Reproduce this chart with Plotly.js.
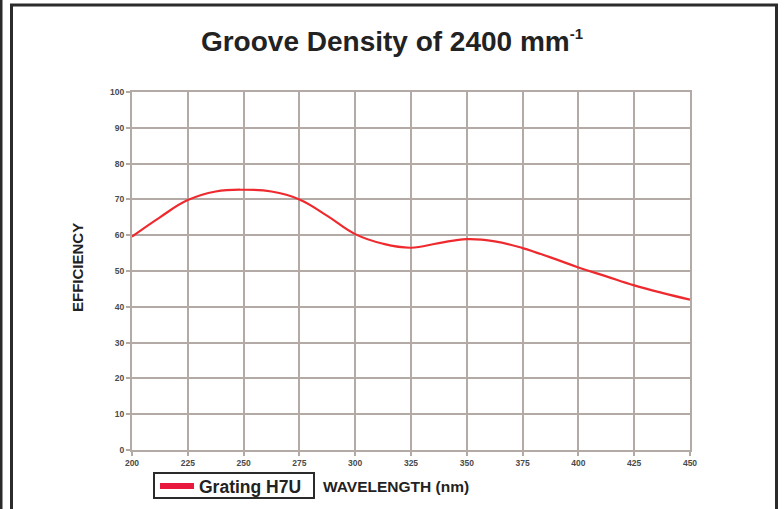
<!DOCTYPE html>
<html>
<head>
<meta charset="utf-8">
<script src="https://cdn.plot.ly/plotly-3.0.1.min.js"></script>
<style>html,body{margin:0;padding:0;background:#fff;}#chart{width:784px;height:509px;}</style>
</head>
<body>
<div id="chart"></div>
<script>
// ---- data ----
var wavelength = [200, 212.5, 225, 237.5, 250, 262.5, 275, 287.5, 300, 312.5, 325, 337.5, 350, 362.5, 375, 387.5, 400, 412.5, 425, 437.5, 450];
var efficiency = [59.6, 65.0, 69.8, 72.2, 72.7, 72.2, 70.0, 65.4, 60.3, 57.6, 56.5, 57.8, 58.9, 58.3, 56.4, 53.8, 51.0, 48.5, 46.0, 43.9, 42.0];
var xTicks = [200, 225, 250, 275, 300, 325, 350, 375, 400, 425, 450];
var yTicks = [0, 10, 20, 30, 40, 50, 60, 70, 80, 90, 100];
var seriesName = 'Grating H7U';
var titleText = 'Groove Density of 2400 mm<sup><span style="font-size:15px">-1</span></sup>';
var xLabel = 'WAVELENGTH (nm)';
var yLabel = 'EFFICIENCY';

// ---- layout geometry ----
var W = 784, H = 509;
var M = {l: 132, r: 94, t: 92, b: 59, autoexpand: false};
var PW = W - M.l - M.r, PH = H - M.t - M.b;
function px(x) { return (x - M.l) / PW; }
function py(y) { return (H - M.b - y) / PH; }

var gridCol = '#b3aaa6';
var frameCol = '#2b2b2b';
var font = 'Liberation Sans, Arial, sans-serif';

var traces = [
  {
    x: wavelength, y: efficiency, type: 'scatter', mode: 'lines',
    line: {color: '#ee2a2f', width: 2.2, shape: 'spline', smoothing: 1.2},
    showlegend: false, hoverinfo: 'x+y'
  },
  {
    x: [null], y: [null], type: 'scatter', mode: 'lines', name: seriesName,
    line: {color: '#e8193c', width: 6}, showlegend: true
  }
];

var layout = {
  width: W, height: H,
  margin: M,
  paper_bgcolor: '#ffffff', plot_bgcolor: '#ffffff',
  font: {family: font, color: '#222'},
  title: {
    text: titleText,
    font: {family: font, size: 28, weight: 'bold', color: '#222'},
    x: 0.5, xref: 'container', xanchor: 'center',
    y: 1 - 41 / H, yref: 'container', yanchor: 'middle'
  },
  xaxis: {
    range: [200, 450], tickmode: 'array', tickvals: xTicks, ticktext: xTicks.map(String),
    showgrid: true, gridcolor: gridCol, gridwidth: 2,
    showline: true, linecolor: gridCol, linewidth: 2, mirror: true,
    ticks: 'outside', ticklen: 4, tickcolor: gridCol, tickwidth: 2,
    tickfont: {family: font, size: 8.5, weight: 'bold', color: '#4a4a4a'},
    zeroline: false, fixedrange: true
  },
  yaxis: {
    range: [0, 100], tickmode: 'array', tickvals: yTicks, ticktext: yTicks.map(String),
    showgrid: true, gridcolor: gridCol, gridwidth: 2,
    showline: true, linecolor: gridCol, linewidth: 2, mirror: true,
    ticks: 'outside', ticklen: 4, tickcolor: gridCol, tickwidth: 2,
    tickfont: {family: font, size: 8.5, weight: 'bold', color: '#4a4a4a'},
    zeroline: false, fixedrange: true
  },
  showlegend: true,
  legend: {
    x: px(155), y: py(486), xref: 'paper', yref: 'paper',
    xanchor: 'left', yanchor: 'middle',
    borderwidth: 0, bgcolor: 'rgba(0,0,0,0)',
    font: {family: font, size: 17.5, weight: 'bold', color: '#222'},
    itemwidth: 34, tracegroupgap: 0
  },
  annotations: [
    {
      text: yLabel, xref: 'paper', yref: 'paper', x: px(77), y: py(268),
      xanchor: 'center', yanchor: 'middle', textangle: -90, showarrow: false,
      font: {family: font, size: 15, weight: 'bold', color: '#222'}
    },
    {
      text: xLabel, xref: 'paper', yref: 'paper', x: px(396), y: py(486),
      xanchor: 'center', yanchor: 'middle', showarrow: false,
      font: {family: font, size: 15.5, weight: 'bold', color: '#222'}
    }
  ],
  shapes: [
    {type: 'line', xref: 'paper', yref: 'paper', x0: px(1), x1: px(1), y0: py(0), y1: py(H + 10), line: {color: frameCol, width: 3}},
    {type: 'path', xref: 'paper', yref: 'paper',
     path: 'M ' + px(11.5) + ' ' + py(H + 10) + ' L ' + px(11.5) + ' ' + py(5) + ' L ' + px(776.5) + ' ' + py(5) + ' L ' + px(776.5) + ' ' + py(H + 10),
     line: {color: frameCol, width: 3}},
    {type: 'rect', xref: 'paper', yref: 'paper', x0: px(154), x1: px(314), y0: py(473), y1: py(498),
     line: {color: frameCol, width: 2}, fillcolor: 'rgba(0,0,0,0)'}
  ]
};

Plotly.newPlot('chart', traces, layout, {displayModeBar: false, staticPlot: true});
</script>
</body>
</html>
